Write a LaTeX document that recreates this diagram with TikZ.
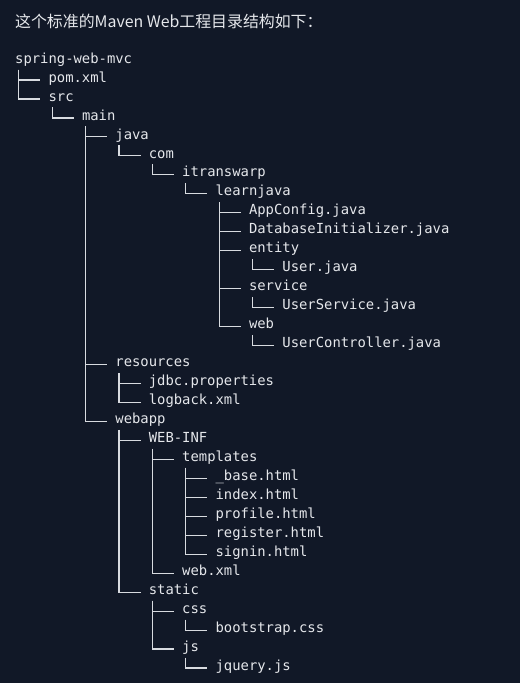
\documentclass[tikz,border=0pt]{standalone}
\usepackage{fontspec}
\setmonofont{DejaVu Sans Mono}
\newfontfamily\cjkfont{Noto Sans CJK SC}
\definecolor{pageBack}{HTML}{111827}
\definecolor{textFore}{HTML}{E5E7EB}
\definecolor{lineFore}{HTML}{D8DBE0}
\begin{document}
\begin{tikzpicture}
[x=1pt,y=-1pt,%
  fileDecorate/.style={anchor=mid west,inner sep=0pt,text=textFore,%
    font=\ttfamily\fontsize{13.87}{19}\selectfont},%
  lineDecorate/.style={-,draw=lineFore,line width=1.2pt}]
\fill[pageBack] (0,0) rectangle (520,683);
\useasboundingbox (0,0) rectangle (520,683);
%% heading
\node (title) at (15,21) [anchor=west,inner sep=0pt,text=textFore,
  font=\cjkfont\fontsize{15.9}{18}\selectfont] {这个标准的Maven Web工程目录结构如下：};
%% root of the tree
\node (root) at (15,61) [fileDecorate] {spring-web-mvc};
%% entries: name/level/row/label/parent
\foreach \nodename/\level/\row/\label/\parentname in {
  pom/1/1/pom.xml/root, src/1/2/src/root, main/2/3/main/src,
  java/3/4/java/main, com/4/5/com/java, itw/5/6/itranswarp/com,
  learn/6/7/learnjava/itw, appcfg/7/8/AppConfig.java/learn,
  dbinit/7/9/DatabaseInitializer.java/learn, entity/7/10/entity/learn,
  user/8/11/User.java/entity, service/7/12/service/learn,
  usersvc/8/13/UserService.java/service, web/7/14/web/learn,
  userctl/8/15/UserController.java/web, res/3/16/resources/main,
  jdbc/4/17/jdbc.properties/res, logback/4/18/logback.xml/res,
  webapp/3/19/webapp/main, webinf/4/20/WEB-INF/webapp,
  tpl/5/21/templates/webinf, base/6/22/\_base.html/tpl,
  index/6/23/index.html/tpl, profile/6/24/profile.html/tpl,
  register/6/25/register.html/tpl, signin/6/26/signin.html/tpl,
  webxml/5/27/web.xml/webinf, static/4/28/static/webapp,
  css/5/29/css/static, bootstrap/6/30/bootstrap.css/css,
  js/5/31/js/static, jquery/6/32/jquery.js/js}
{
  \node (\nodename) at (15+33.4*\level,61+18.97*\row) [fileDecorate] {\label};
  \draw[lineDecorate] ([xshift=3.7pt,yshift=-8.5pt]\parentname.mid west)
    |- ([xshift=-8pt]\nodename.mid west);
}
\end{tikzpicture}
\end{document}
